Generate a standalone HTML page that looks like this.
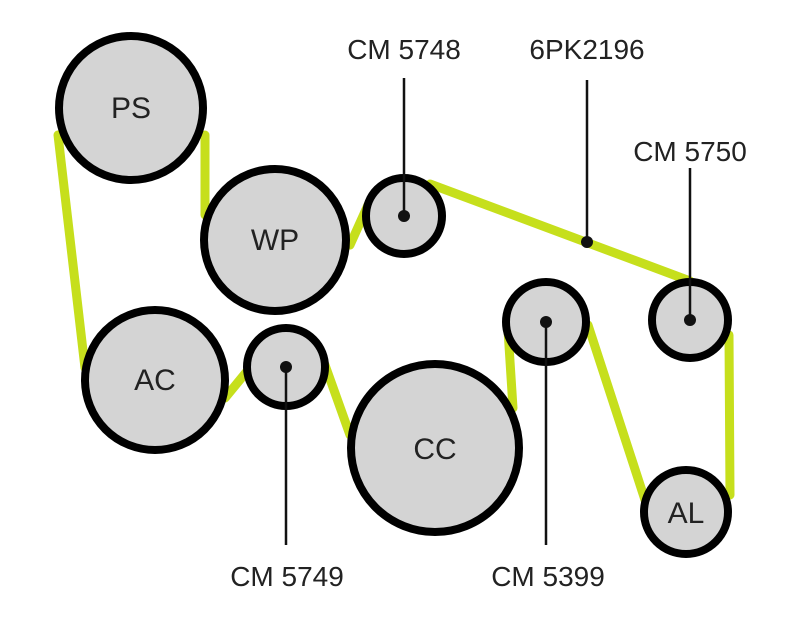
<!DOCTYPE html>
<html><head><style>body{margin:0;background:#fff}svg{display:block}</style></head><body>
<svg width="800" height="641" xmlns="http://www.w3.org/2000/svg" font-family="Liberation Sans, sans-serif">
<g stroke="#c6df1c" stroke-width="9" stroke-linecap="round">
<line x1="58" y1="135" x2="85" y2="368"/>
<line x1="205" y1="135" x2="205" y2="215"/>
<line x1="350" y1="245" x2="368" y2="205"/>
<line x1="430" y1="184" x2="690" y2="281"/>
<line x1="729" y1="335" x2="730" y2="495"/>
<line x1="645" y1="500" x2="588" y2="325"/>
<line x1="508" y1="330" x2="513" y2="408"/>
<line x1="350" y1="435" x2="325" y2="365"/>
<line x1="248" y1="370" x2="225" y2="398"/>
</g>
<g fill="#d4d4d4" stroke="#000" stroke-width="8">
<circle cx="131" cy="108" r="72"/>
<circle cx="275" cy="240" r="71"/>
<circle cx="404" cy="216" r="38"/>
<circle cx="155" cy="380" r="70"/>
<circle cx="286" cy="367" r="39"/>
<circle cx="435" cy="448" r="84"/>
<circle cx="546" cy="322" r="40"/>
<circle cx="690" cy="320" r="38"/>
<circle cx="686" cy="512" r="42"/>
</g>
<g stroke="#111" stroke-width="2.5">
<line x1="404" y1="78" x2="404" y2="216"/>
<line x1="587" y1="80" x2="587" y2="242"/>
<line x1="690" y1="168" x2="690" y2="320"/>
<line x1="286" y1="367" x2="286" y2="545"/>
<line x1="546" y1="322" x2="546" y2="545"/>
</g>
<g fill="#111">
<circle cx="404" cy="216" r="6"/><circle cx="587" cy="242" r="6"/><circle cx="690" cy="320" r="6"/><circle cx="286" cy="367" r="6"/><circle cx="546" cy="322" r="6"/>
</g>
<g fill="#222" font-size="30" text-anchor="middle">
<text x="131" y="118">PS</text><text x="275" y="250">WP</text><text x="155" y="390">AC</text><text x="435" y="459">CC</text><text x="686" y="523">AL</text>
</g>
<g fill="#222" font-size="28" text-anchor="middle">
<text x="404" y="59">CM 5748</text><text x="587" y="59">6PK2196</text><text x="690" y="161">CM 5750</text><text x="287" y="586">CM 5749</text><text x="548" y="586">CM 5399</text>
</g>
</svg>
</body></html>
